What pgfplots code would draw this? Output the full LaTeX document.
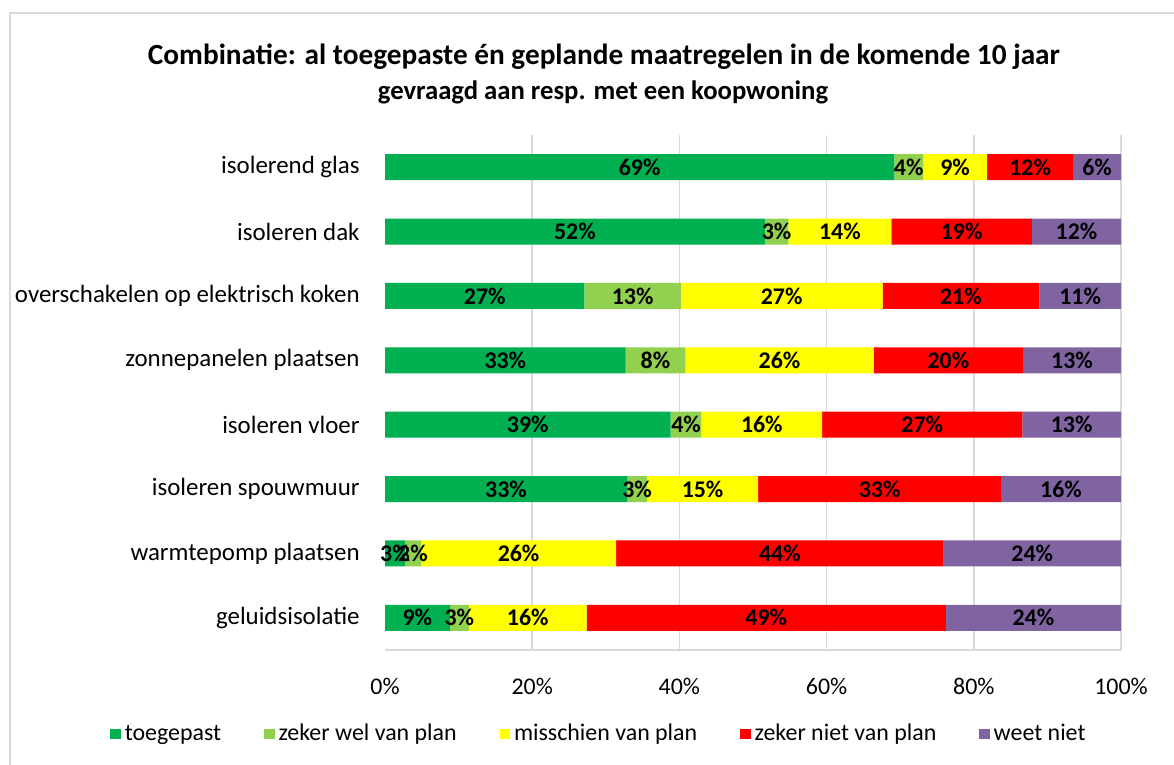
\documentclass[border=0pt]{standalone}
\usepackage{pgfplots}
\pgfplotsset{compat=1.18}
\usepackage{pgfplotstable}
\usepackage{fontspec}
\setmainfont{Carlito}
\definecolor{cA}{HTML}{00B050}
\definecolor{cB}{HTML}{92D050}
\definecolor{cC}{HTML}{FFFF00}
\definecolor{cD}{HTML}{FF0000}
\definecolor{cE}{HTML}{8064A2}
\definecolor{gridgrey}{HTML}{D9D9D9}

\pgfplotstableread{
c v l
0 69.2 69
1 51.6 52
2 27.1 27
3 32.7 33
4 38.8 39
5 32.9 33
6 2.7 3
7 8.8 9
}\tA
\pgfplotstableread{
c v l
0 3.9 4
1 3.2 3
2 13.1 13
3 8.1 8
4 4.2 4
5 2.7 3
6 2.2 2
7 2.6 3
}\tB
\pgfplotstableread{
c v l
0 8.7 9
1 14.0 14
2 27.4 27
3 25.6 26
4 16.4 16
5 15.1 15
6 26.5 26
7 16.0 16
}\tC
\pgfplotstableread{
c v l
0 11.7 12
1 19.1 19
2 21.3 21
3 20.3 20
4 27.2 27
5 33.0 33
6 44.5 44
7 48.8 49
}\tD
\pgfplotstableread{
c v l
0 6.5 6
1 12.1 12
2 11.1 11
3 13.3 13
4 13.4 13
5 16.3 16
6 24.1 24
7 23.8 24
}\tE

\begin{document}
\begin{tikzpicture}
\path[use as bounding box] (0,0) rectangle (587bp,382.5bp);
\draw[color=gridgrey, line width=0.75bp] (5bp,-3bp) rectangle (592bp,376bp);
\node[font=\bfseries\fontsize{14.7}{17}\selectfont, anchor=base] at (302bp,350bp) {Combinatie: al toegepaste én geplande maatregelen in de komende 10 jaar};
\node[font=\bfseries\fontsize{13.4}{16}\selectfont, anchor=base] at (301.5bp,332.5bp) {gevraagd aan resp. met een koopwoning};
\begin{axis}[
  at={(192.5bp,57.5bp)}, anchor=south west,
  scale only axis, width=368bp, height=257.5bp,
  xbar stacked, bar width=13bp,
  y dir=reverse, ymin=-0.5, ymax=7.5,
  xmin=0, xmax=100,
  ytick={0,...,7},
  yticklabels={isolerend glas, isoleren dak, overschakelen op elektrisch koken, zonnepanelen plaatsen, isoleren vloer, isoleren spouwmuur, warmtepomp plaatsen, geluidsisolatie},
  xtick={20,40,60,80,100},
  xticklabels={20\%,40\%,60\%,80\%,100\%},
  extra x ticks={0}, extra x tick labels={0\%}, extra x tick style={grid=none},
  xmajorgrids, major grid style={draw=gridgrey, line width=0.75bp},
  major tick length=0pt,
  axis line style={draw=none},
  xticklabel style={font=\fontsize{12}{14}\selectfont, anchor=base, inner sep=0pt, yshift=-22bp},
  yticklabel style={font=\fontsize{12.5}{14}\selectfont, anchor=east, inner sep=0pt, xshift=-12.5bp},
  clip=false,
  point meta=explicit symbolic,
  nodes near coords={\pgfplotspointmeta\%},
  every node near coord/.style={anchor=center, text=black, inner sep=0pt,
    font=\bfseries\fontsize{12}{14}\selectfont},
  legend columns=5,
  legend style={at={(-0.3736,-0.163)}, anchor=west, draw=none, fill=none, inner sep=0pt,
    font=\fontsize{12}{14}\selectfont,
    /tikz/every even column/.append style={column sep=19.5bp}},
  legend image code/.code={\fill[#1] (0bp,-2.6bp) rectangle (5.2bp,2.6bp);},
  after end axis/.code={\draw[gridgrey, line width=0.75bp] (axis cs:0,7.5) -- (axis cs:100,7.5);},
]
\addplot[fill=cA, draw=none] table[x=v,y=c,meta=l]{\tA};
\addplot[fill=cB, draw=none] table[x=v,y=c,meta=l]{\tB};
\addplot[fill=cC, draw=none] table[x=v,y=c,meta=l]{\tC};
\addplot[fill=cD, draw=none] table[x=v,y=c,meta=l]{\tD};
\addplot[fill=cE, draw=none] table[x=v,y=c,meta=l]{\tE};
\legend{toegepast, zeker wel van plan, misschien van plan, zeker niet van plan, weet niet}
\end{axis}
\end{tikzpicture}
\end{document}
